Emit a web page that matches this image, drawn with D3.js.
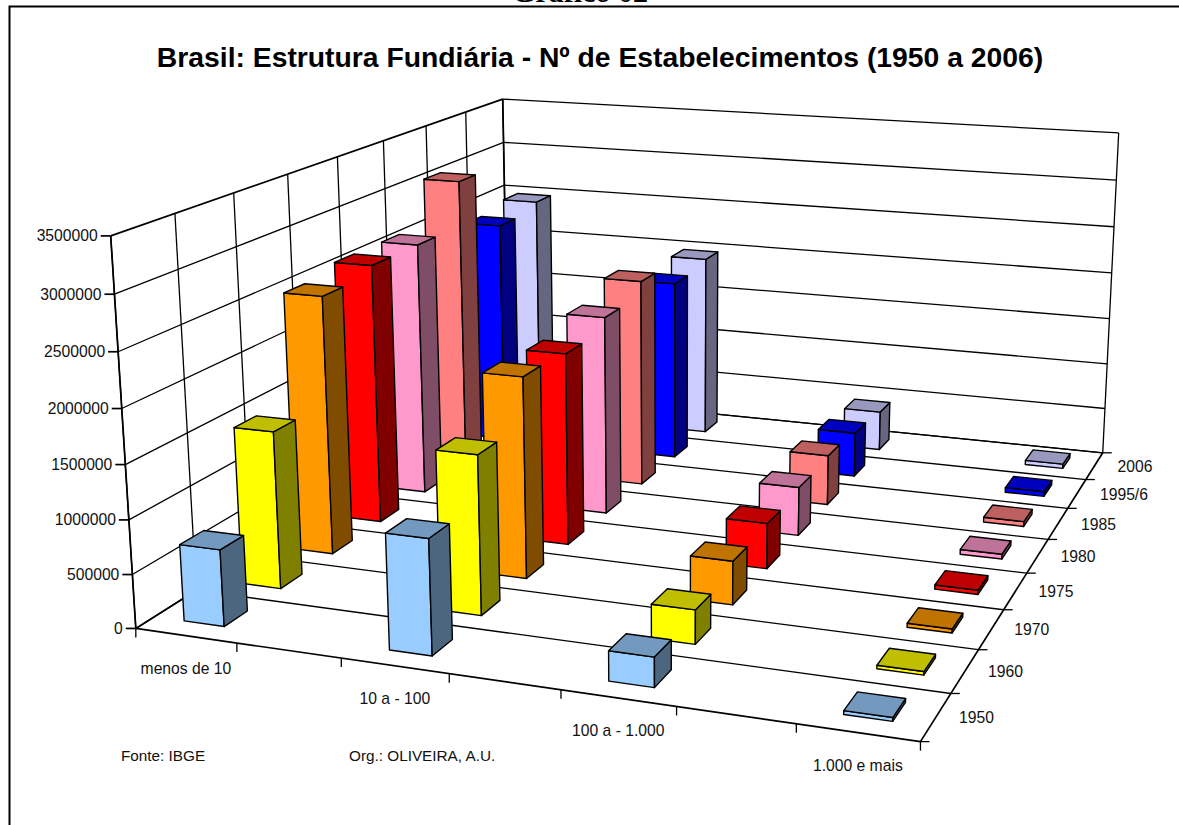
<!DOCTYPE html>
<html>
  <head>
    <meta charset="utf-8">
    <title>Brasil: Estrutura Fundiária</title>
    <script src="https://d3js.org/d3.v7.min.js"></script>
    <style>
      html, body { margin: 0; padding: 0; background: #fff; overflow: hidden; }
      svg { display: block; }
      text { font-family: "Liberation Sans", Arial, sans-serif; fill: #111; }
      .tick { font-size: 15.7px; }
      .note { font-size: 15.3px; }
      .grid { fill: none; stroke: #000; stroke-width: 1.3; }
      .axis { fill: none; stroke: #000; stroke-width: 1.7; }
      .face { stroke: #000; stroke-width: 1.4; stroke-linejoin: round; }
    </style>
  </head>
  <body>
    <svg id="chart" width="1179" height="825"></svg>
    <script>
      // data
      const faixas = ["menos de 10", "10 a - 100", "100 a - 1.000", "1.000 e mais"];
      const anos = ["1950", "1960", "1970", "1975", "1980", "1985", "1995/6", "2006"];
      const menos10 = [710000, 1495000, 2520000, 2600000, 2598000, 3065000, 2402000, 2477000];
      const de10a100 = [1053000, 1491000, 1934000, 1899000, 2017000, 2160000, 1916000, 1972000];
      const de100a1000 = [268000, 315000, 415000, 446000, 489000, 517000, 470000, 425000];
      const mais1000 = [33000, 32000, 37000, 41000, 48000, 50000, 49000, 47000];
      const valores = [menos10, de10a100, de100a1000, mais1000];
      const cores = ["#99ccff", "#ffff00", "#ff9900", "#ff0000", "#ff99cc", "#ff8080", "#0000ff", "#ccccff"];

      // each category sits in every other slot of the front axis
      const slots = d3.range(faixas.length * 2 - 1);

      const svg = d3.select("#chart");

      // cube corners on screen, used to fit the perspective
      const cube = [
        { p: [0, 0, 0], s: [135.5, 628.3] },
        { p: [1, 0, 0], s: [920.5, 741.7] },
        { p: [1, 1, 0], s: [1102.6, 452.7] },
        { p: [0, 1, 0], s: [508.7, 393.5] },
        { p: [0, 0, 1], s: [111, 236] },
        { p: [0, 1, 1], s: [502.4, 99] },
        { p: [1, 1, 1], s: [1118.8, 133] }
      ];

      function solve(A, b) {
        const n = b.length;
        const m = A.map(function(row, i) { return row.concat(b[i]); });
        for (let i = 0; i < n; i++) {
          let best = i;
          for (let r = i + 1; r < n; r++) if (Math.abs(m[r][i]) > Math.abs(m[best][i])) best = r;
          [m[i], m[best]] = [m[best], m[i]];
          for (let r = 0; r < n; r++) {
            if (r === i) continue;
            const f = m[r][i] / m[i][i];
            for (let c = i; c <= n; c++) m[r][c] -= f * m[i][c];
          }
        }
        return m.map(function(row, i) { return row[n] / row[i]; });
      }

      function fitCamera() {
        const rows = [], rhs = [];
        cube.forEach(function(c) {
          const [u, v, w] = c.p, [x, y] = c.s;
          rows.push([u, v, w, 1, 0, 0, 0, 0, -x * u, -x * v, -x * w]); rhs.push(x);
          rows.push([0, 0, 0, 0, u, v, w, 1, -y * u, -y * v, -y * w]); rhs.push(y);
        });
        const AtA = d3.range(11).map(function(i) {
          return d3.range(11).map(function(j) { return d3.sum(rows, function(r) { return r[i] * r[j]; }); });
        });
        const Atb = d3.range(11).map(function(i) { return d3.sum(rows, function(r, k) { return r[i] * rhs[k]; }); });
        return solve(AtA, Atb);
      }

      const cam = fitCamera();

      function project(u, v, w) {
        const d = cam[8] * u + cam[9] * v + cam[10] * w + 1;
        return [
          (cam[0] * u + cam[1] * v + cam[2] * w + cam[3]) / d,
          (cam[4] * u + cam[5] * v + cam[6] * w + cam[7]) / d
        ];
      }

      // scales, all in unit cube coordinates
      const xGrid = d3.scaleLinear().domain([0, slots.length]).range([0, 1]);
      const yGrid = d3.scaleLinear().domain([0, anos.length]).range([0, 1]);
      const x = d3.scaleBand().domain(slots).range([0, 1]).paddingInner(0.6).paddingOuter(0.3);
      const y = d3.scaleBand().domain(anos).range([0, 1]).paddingInner(0.6).paddingOuter(0.3);
      const z = d3.scaleLinear().domain([0, 3500000]).range([0, 1]);
      const zTicks = z.ticks(7);

      const poly = d3.line().curve(d3.curveLinearClosed);

      function seg(cls, a, b) {
        svg.append("line")
          .attr("class", cls)
          .attr("x1", a[0]).attr("y1", a[1])
          .attr("x2", b[0]).attr("y2", b[1]);
      }

      // walls and floor
      zTicks.forEach(function(t) {
        const w = z(t);
        seg(t === 3500000 ? "axis" : "grid", project(0, 0, w), project(0, 1, w));
        seg("grid", project(0, 1, w), project(1, 1, w));
      });
      d3.range(anos.length + 1).forEach(function(i) {
        const v = yGrid(i);
        seg(i === 0 ? "axis" : "grid", project(0, v, 0), project(1, v, 0));
        seg("grid", project(0, v, 0), project(0, v, 1));
      });
      seg("axis", project(0, 0, 0), project(0, 1, 0));
      seg("axis", project(1, 0, 0), project(1, 1, 0));
      seg("axis", project(0, 0, 0), project(0, 0, 1));
      seg("axis", project(0, 1, 0), project(0, 1, 1));
      seg("grid", project(1, 1, 0), project(1, 1, 1));

      // ticks
      zTicks.forEach(function(t) {
        const p = project(0, 0, z(t));
        seg("axis", [p[0] - 10, p[1]], p);
        svg.append("text").attr("class", "tick")
          .attr("x", p[0] - 13).attr("y", p[1] + 5.5)
          .attr("text-anchor", "end")
          .text(t);
      });
      d3.range(slots.length + 1).forEach(function(i) {
        const p = project(xGrid(i), 0, 0);
        seg("grid", p, [p[0], p[1] + 9]);
      });
      d3.range(anos.length + 1).forEach(function(i) {
        const p = project(1, yGrid(i), 0);
        seg("grid", p, [p[0] + 9, p[1]]);
      });

      // axis labels
      faixas.forEach(function(d, i) {
        const p = project(xGrid(i * 2 + 0.5), 0, 0);
        svg.append("text").attr("class", "tick")
          .attr("x", p[0]).attr("y", p[1] + 38)
          .attr("text-anchor", "middle")
          .text(d);
      });
      anos.forEach(function(d, i) {
        const p = project(1, yGrid(i + 0.5), 0);
        svg.append("text").attr("class", "tick")
          .attr("x", p[0] + 23).attr("y", p[1] + 6)
          .text(d);
      });

      // bars, back row first
      function shade(c, k) {
        const r = d3.rgb(c);
        return d3.rgb(r.r * k, r.g * k, r.b * k).formatHex();
      }

      const bars = [];
      anos.forEach(function(ano, s) {
        valores.forEach(function(serie, c) {
          bars.push({ slot: c * 2, ano: ano, value: serie[s], color: cores[s], row: s });
        });
      });
      bars.sort(function(a, b) { return d3.descending(a.row, b.row) || d3.ascending(a.slot, b.slot); });

      const barGroup = svg.append("g");
      bars.forEach(function(d) {
        const u0 = x(d.slot), u1 = u0 + x.bandwidth();
        const v0 = y(d.ano), v1 = v0 + y.bandwidth();
        const w = z(d.value);
        const g = barGroup.append("g");
        g.append("path").attr("class", "face").attr("fill", d.color)
          .attr("d", poly([project(u0, v0, 0), project(u1, v0, 0), project(u1, v0, w), project(u0, v0, w)]));
        g.append("path").attr("class", "face").attr("fill", shade(d.color, 0.5))
          .attr("d", poly([project(u1, v0, 0), project(u1, v1, 0), project(u1, v1, w), project(u1, v0, w)]));
        g.append("path").attr("class", "face").attr("fill", shade(d.color, 0.75))
          .attr("d", poly([project(u0, v0, w), project(u1, v0, w), project(u1, v1, w), project(u0, v1, w)]));
      });

      // titles and notes
      svg.append("text")
        .attr("x", 600).attr("y", 67)
        .attr("text-anchor", "middle")
        .style("font-size", "28.3px").style("font-weight", "bold").style("fill", "#000")
        .text("Brasil: Estrutura Fundiária - Nº de Estabelecimentos (1950 a 2006)");
      svg.append("text")
        .attr("x", 580).attr("y", 1.5)
        .attr("text-anchor", "middle")
        .style("font-family", "'Liberation Serif', serif")
        .style("font-size", "30px").style("font-weight", "bold").style("fill", "#000")
        .text("Gráfico 02");
      svg.append("text").attr("class", "note").attr("x", 121).attr("y", 761).text("Fonte: IBGE");
      svg.append("text").attr("class", "note").attr("x", 349).attr("y", 761).text("Org.: OLIVEIRA, A.U.");

      // page frame, runs off the right and bottom of the shot
      svg.append("path")
        .attr("d", d3.line()([[9.5, 825], [9.5, 6.5], [1179, 6.5]]))
        .attr("fill", "none").attr("stroke", "#000").attr("stroke-width", 2);
    </script>
  </body>
</html>
